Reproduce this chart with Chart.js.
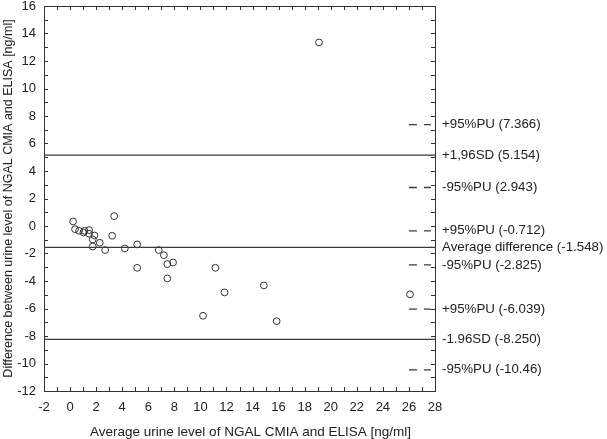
<!DOCTYPE html>
<html>
<head>
<meta charset="utf-8">
<script src="https://cdn.jsdelivr.net/npm/chart.js@4/dist/chart.umd.min.js"></script>
<style>
  body { margin: 0; background: #fff; }
</style>
</head>
<body>
<canvas id="chart" width="607" height="439"></canvas>
<script>
// averages (x) and differences (y)
const avgLevel = [0.23, 0.38, 0.69, 1.03, 1.1, 1.46, 1.46, 1.87, 1.74, 1.74, 2.28, 2.69,
  3.38, 3.23, 4.2, 5.15, 5.15, 6.8, 7.2, 7.46, 7.9, 7.46, 11.15, 11.85, 10.2,
  14.87, 15.85, 26.08, 19.1];
const diffLevel = [0.33, -0.23, -0.35, -0.47, -0.35, -0.3, -0.56, -0.69, -0.98, -1.49, -1.22, -1.75,
  0.72, -0.71, -1.63, -1.34, -3.04, -1.75, -2.12, -2.77, -2.65, -3.81, -3.04, -4.83, -6.53,
  -4.32, -6.92, -4.97, 13.35];

// solid reference lines: +1.96SD, mean, -1.96SD
const solidLines = [5.154, -1.548, -8.25];
// short dashed marks at the right edge (confidence limits)
const dashLines = [7.366, 2.8, -0.35, -2.825, -6.039, -10.46];

const refLabels = ['+95%PU (7.366)', '+1,96SD (5.154)', '-95%PU (2.943)', '+95%PU (-0.712)',
  'Average difference (-1.548)', '-95%PU (-2.825)', '+95%PU (-6.039)', '-1.96SD (-8.250)', '-95%PU (-10.46)'];
const refLabelY = [7.366, 5.154, 2.8, -0.35, -1.548, -2.825, -6.039, -8.25, -10.46];

const xTitle = 'Average urine level of NGAL CMIA and ELISA [ng/ml]';
const yTitle = 'Difference between urine level of NGAL CMIA and ELISA [ng/ml]';

const xMin = -2, xMax = 28, yMin = -12, yMax = 16;
const FONT = '"Liberation Sans", Arial, sans-serif';
const ink = '#3a3a3a';

const datasets = [];
solidLines.forEach(v => {
  datasets.push({
    data: [{ x: xMin, y: v }, { x: xMax, y: v }],
    showLine: true, borderColor: ink, borderWidth: 1.3, pointRadius: 0
  });
});
dashLines.forEach(v => {
  datasets.push({
    data: [{ x: 26, y: v }, { x: xMax, y: v }],
    showLine: true, borderColor: ink, borderWidth: 1.3, borderDash: [8, 7, 7, 4], pointRadius: 0
  });
});
datasets.push({
  data: avgLevel.map((a, i) => ({ x: a, y: diffLevel[i] })),
  showLine: false,
  pointRadius: 3.4,
  pointBorderWidth: 1,
  pointBorderColor: '#333',
  pointBackgroundColor: 'rgba(0,0,0,0)'
});

const frame = {
  id: 'frame',
  afterDraw(chart) {
    const { ctx, chartArea: a, scales: { x, y } } = chart;
    ctx.save();
    ctx.strokeStyle = '#333';
    ctx.lineWidth = 1;
    ctx.strokeRect(a.left + 0.5, a.top + 0.5, a.right - a.left, a.bottom - a.top);
    ctx.beginPath();
    for (let v = xMin + 1; v < xMax; v++) {
      const px = Math.round(x.getPixelForValue(v)) + 0.5;
      ctx.moveTo(px, a.bottom); ctx.lineTo(px, a.bottom - 4);
      ctx.moveTo(px, a.top); ctx.lineTo(px, a.top + 4);
    }
    for (let v = yMin + 1; v < yMax; v++) {
      const py = Math.round(y.getPixelForValue(v)) + 0.5;
      ctx.moveTo(a.left, py); ctx.lineTo(a.left + 4, py);
      ctx.moveTo(a.right, py); ctx.lineTo(a.right - 4, py);
    }
    ctx.stroke();

    ctx.fillStyle = '#222';
    ctx.textBaseline = 'middle';
    ctx.font = '13.3px ' + FONT;
    refLabels.forEach((t, i) => {
      ctx.fillText(t, a.right + 7, y.getPixelForValue(refLabelY[i]));
    });

    // x title sits a little right of centre in the original
    ctx.font = '13.5px ' + FONT;
    ctx.textAlign = 'center';
    ctx.fillText(xTitle, (a.left + a.right) / 2 + 11, chart.height - 7);
    ctx.restore();
  }
};

new Chart(document.getElementById('chart'), {
  type: 'scatter',
  data: { datasets: datasets },
  options: {
    responsive: false,
    animation: false,
    layout: { padding: { left: 0, right: 172, top: 6, bottom: 0 } },
    plugins: { legend: { display: false }, tooltip: { enabled: false } },
    scales: {
      x: {
        min: xMin, max: xMax,
        grid: { display: false },
        border: { display: false },
        ticks: { stepSize: 2, padding: 1, color: '#222', font: { size: 13, family: FONT } },
        afterFit: s => { s.height = 48; s.paddingRight = 0; s.paddingLeft = 0; }
      },
      y: {
        min: yMin, max: yMax,
        grid: { display: false },
        border: { display: false },
        ticks: { stepSize: 2, padding: 0, color: '#222', font: { size: 13, family: FONT } },
        title: {
          display: true, text: yTitle,
          color: '#222', font: { size: 12.5, family: FONT }, padding: { top: 1, bottom: 0 }
        },
        afterFit: s => { s.width = 44; s.paddingTop = 0; s.paddingBottom = 0; }
      }
    }
  },
  plugins: [frame]
});
</script>
</body>
</html>
